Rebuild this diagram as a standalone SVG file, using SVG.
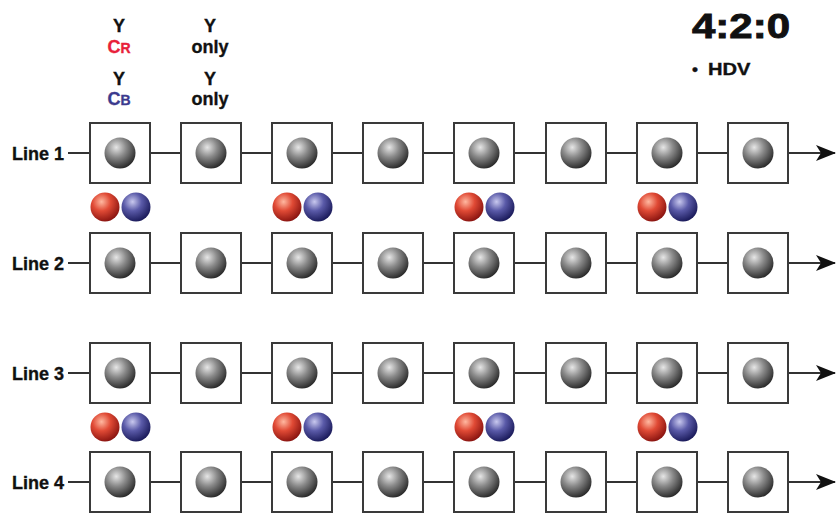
<svg xmlns="http://www.w3.org/2000/svg" width="837" height="515" viewBox="0 0 837 515">
<defs>
<style>
text{font-family:"Liberation Sans",Arial,sans-serif;font-weight:bold;fill:#111;stroke:#111;stroke-width:0.35}
.lbl{font-size:18px}
.hd{font-size:18px;text-anchor:middle}
.box{fill:#fff;stroke:#3a3a3a;stroke-width:2}
.wire{stroke:#333;stroke-width:2;fill:none}
</style>
<radialGradient id="gy" cx="0.38" cy="0.32" r="0.7">
<stop offset="0" stop-color="#e6e6e6"/><stop offset="0.45" stop-color="#8a8a8a"/><stop offset="1" stop-color="#2a2a2a"/>
</radialGradient>
<radialGradient id="rd" cx="0.38" cy="0.32" r="0.7">
<stop offset="0" stop-color="#ffb8a0"/><stop offset="0.45" stop-color="#e04a35"/><stop offset="1" stop-color="#8a1410"/>
</radialGradient>
<radialGradient id="bl" cx="0.38" cy="0.32" r="0.7">
<stop offset="0" stop-color="#c8c8ee"/><stop offset="0.45" stop-color="#5a5aa8"/><stop offset="1" stop-color="#1a1a5a"/>
</radialGradient>
<marker id="ah" viewBox="0 0 20 18" refX="19" refY="9" markerWidth="20" markerHeight="18" markerUnits="userSpaceOnUse" orient="auto">
<path d="M0,1 L20,9 L0,17 L5,9 Z" fill="#111"/>
</marker>
<g id="node"><rect class="box" x="-30" y="-30" width="60" height="60"/><circle r="15.5" fill="url(#gy)"/></g>
<g id="chroma"><circle cx="-15" r="14.5" fill="url(#rd)"/><circle cx="16" r="14.5" fill="url(#bl)"/></g>
</defs>
<rect width="837" height="515" fill="#fff"/>

<g id="header">
<text class="hd" x="119" y="32">Y</text>
<text class="hd" x="119" y="53" style="fill:#e8203a;stroke:#e8203a">C<tspan font-size="14">R</tspan></text>
<text class="hd" x="119" y="85">Y</text>
<text class="hd" x="119" y="105" style="fill:#3b3a8e;stroke:#3b3a8e">C<tspan font-size="14">B</tspan></text>
<text class="hd" x="210" y="32">Y</text>
<text class="hd" x="210" y="53">only</text>
<text class="hd" x="210" y="85">Y</text>
<text class="hd" x="210" y="105">only</text>
<text transform="translate(692,38) scale(1.2,1)" font-size="35" style="stroke-width:0.9">4:2:0</text>
<text x="692" y="75" font-size="17">•</text>
<text transform="translate(708,75) scale(1.22,1)" font-size="16.5">HDV</text>
</g>

<g id="labels">
<text class="lbl" x="12" y="160">Line 1</text>
<text class="lbl" x="12" y="270">Line 2</text>
<text class="lbl" x="12" y="380">Line 3</text>
<text class="lbl" x="12" y="489">Line 4</text>
</g>

<g id="connectors">
<line class="wire" x1="68" y1="153" x2="835" y2="153" marker-end="url(#ah)"/>
<line class="wire" x1="68" y1="263" x2="835" y2="263" marker-end="url(#ah)"/>
<line class="wire" x1="68" y1="373" x2="835" y2="373" marker-end="url(#ah)"/>
<line class="wire" x1="68" y1="482" x2="835" y2="482" marker-end="url(#ah)"/>
</g>

<g id="line1">
<use href="#node" x="120" y="153"/><use href="#node" x="211" y="153"/><use href="#node" x="302" y="153"/><use href="#node" x="393" y="153"/>
<use href="#node" x="484" y="153"/><use href="#node" x="576" y="153"/><use href="#node" x="667" y="153"/><use href="#node" x="758" y="153"/>
</g>
<g id="line2">
<use href="#node" x="120" y="263"/><use href="#node" x="211" y="263"/><use href="#node" x="302" y="263"/><use href="#node" x="393" y="263"/>
<use href="#node" x="484" y="263"/><use href="#node" x="576" y="263"/><use href="#node" x="667" y="263"/><use href="#node" x="758" y="263"/>
</g>
<g id="line3">
<use href="#node" x="120" y="373"/><use href="#node" x="211" y="373"/><use href="#node" x="302" y="373"/><use href="#node" x="393" y="373"/>
<use href="#node" x="484" y="373"/><use href="#node" x="576" y="373"/><use href="#node" x="667" y="373"/><use href="#node" x="758" y="373"/>
</g>
<g id="line4">
<use href="#node" x="120" y="482"/><use href="#node" x="211" y="482"/><use href="#node" x="302" y="482"/><use href="#node" x="393" y="482"/>
<use href="#node" x="484" y="482"/><use href="#node" x="576" y="482"/><use href="#node" x="667" y="482"/><use href="#node" x="758" y="482"/>
</g>
<g id="chroma12">
<use href="#chroma" x="120" y="207"/><use href="#chroma" x="302" y="207"/><use href="#chroma" x="484" y="207"/><use href="#chroma" x="667" y="207"/>
</g>
<g id="chroma34">
<use href="#chroma" x="120" y="427"/><use href="#chroma" x="302" y="427"/><use href="#chroma" x="484" y="427"/><use href="#chroma" x="667" y="427"/>
</g>
</svg>
